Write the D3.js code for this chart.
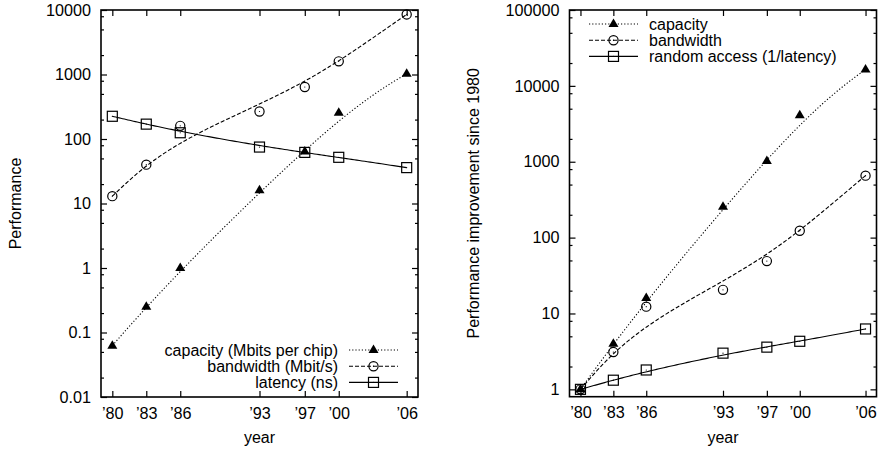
<!DOCTYPE html>
<html>
<head>
<meta charset="utf-8">
<script src="https://cdn.jsdelivr.net/npm/d3@7"></script>
<style>
  body { margin: 0; background: #fff; }
  svg { display: block; font-family: "Liberation Sans", Arial, sans-serif; }
  .tick text { font-size: 16.2px; fill: #000; }
</style>
</head>
<body>
<div id="chart"></div>
<script>
// Data
const YEARS = [1980, 1983, 1986, 1993, 1997, 2000, 2006];
const YEAR_LABELS = ["\u201980", "\u201983", "\u201986", "\u201993", "\u201997", "\u201900", "\u201906"];

// left panel: absolute values
const CAPACITY = [0.0625, 0.25, 1, 16, 64, 256, 1024];
const BANDWIDTH = [13, 40, 160, 267, 640, 1600, 8533];
const LATENCY = [225, 170, 125, 75, 62, 52, 36];
const LEFT_TICKS = [0.01, 0.1, 1, 10, 100, 1000, 10000];
const LEFT_LEGEND = ["capacity (Mbits per chip)", "bandwidth (Mbit/s)", "latency (ns)"];

// right panel: improvement since 1980
const CAPACITY_GAIN = [1, 4, 16, 256, 1024, 4096, 16384];
const BANDWIDTH_GAIN = [1, 3.1, 12.3, 20.5, 49, 123, 656];
const ACCESS_GAIN = [1, 1.32, 1.8, 3, 3.6, 4.3, 6.25];
const RIGHT_TICKS = [1, 10, 100, 1000, 10000, 100000];
const RIGHT_LEGEND = ["capacity", "bandwidth", "random access (1/latency)"];

const W = 880, H = 449;
const FONT = 16;
const svg = d3.select("#chart").append("svg").attr("width", W).attr("height", H);
svg.append("rect").attr("width", W).attr("height", H).attr("fill", "#fff");

// gnuplot-style "smooth bezier": one global Bezier through all points as control points
function bezierCurve(context) {
    let pts = [];
    return {
        areaStart() {}, areaEnd() {},
        lineStart() { pts = []; },
        point(x, y) { pts.push([+x, +y]); },
        lineEnd() {
            const steps = 120;
            for (let s = 0; s <= steps; s++) {
                const t = s / steps;
                let p = pts.map(q => q.slice());
                for (let k = p.length - 1; k > 0; k--)
                    for (let i = 0; i < k; i++)
                        p[i] = [p[i][0] + (p[i + 1][0] - p[i][0]) * t, p[i][1] + (p[i + 1][1] - p[i][1]) * t];
                if (s === 0) context.moveTo(p[0][0], p[0][1]); else context.lineTo(p[0][0], p[0][1]);
            }
        }
    };
}

const STYLES = {
    tri: { dash: "1.2,2" },
    circ: { dash: "4,2" },
    sq: { dash: null }
};

function marker(g, type, x, y) {
    if (type === "tri") {
        g.append("path").attr("transform", `translate(${x},${y})`)
            .attr("d", "M0,-5.5L5,3L-5,3Z").attr("fill", "#000");
    } else if (type === "circ") {
        g.append("circle").attr("cx", x).attr("cy", y).attr("r", 4.6)
            .attr("fill", "none").attr("stroke", "#000").attr("stroke-width", 1.2);
        g.append("circle").attr("cx", x).attr("cy", y).attr("r", 0.6).attr("fill", "#000");
    } else {
        g.append("rect").attr("x", x - 5).attr("y", y - 5).attr("width", 10).attr("height", 10)
            .attr("fill", "none").attr("stroke", "#000").attr("stroke-width", 1.2);
        g.append("circle").attr("cx", x).attr("cy", y).attr("r", 0.6).attr("fill", "#000");
    }
}

function minorTicks(domain) {
    const out = [];
    const lo = Math.floor(Math.log10(domain[0])), hi = Math.ceil(Math.log10(domain[1]));
    for (let e = lo; e <= hi; e++)
        [2, 5, 8].forEach(m => {
            const v = m * Math.pow(10, e);
            if (v > domain[0] && v < domain[1]) out.push(v);
        });
    return out;
}

function drawPanel(cfg) {
    const { left, right, top, bottom, yDomain, yTicks, series, legend, yTitle, titleX } = cfg;
    const x = d3.scaleLinear().domain([1979, 2007]).range([left, right]);
    const y = d3.scaleLog().domain(yDomain).range([bottom, top]);
    const g = svg.append("g");

    const fmt = d => d3.format("")(d);
    const axes = [
        { ax: d3.axisLeft(y).tickValues(yTicks).tickSize(-6).tickPadding(10).tickFormat(fmt), tr: `translate(${left},0)` },
        { ax: d3.axisLeft(y).tickValues(minorTicks(yDomain)).tickSize(-3).tickFormat(""), tr: `translate(${left},0)` },
        { ax: d3.axisRight(y).tickValues(yTicks).tickSize(-6).tickFormat(""), tr: `translate(${right},0)` },
        { ax: d3.axisRight(y).tickValues(minorTicks(yDomain)).tickSize(-3).tickFormat(""), tr: `translate(${right},0)` },
        { ax: d3.axisBottom(x).tickValues(YEARS).tickSize(-6).tickPadding(10).tickFormat((d, i) => YEAR_LABELS[i]), tr: `translate(0,${bottom})` },
        { ax: d3.axisTop(x).tickValues(YEARS).tickSize(-6).tickFormat(""), tr: `translate(0,${top})` }
    ];
    axes.forEach(a => {
        const ag = g.append("g").attr("transform", a.tr).call(a.ax);
        ag.select(".domain").remove();
        ag.selectAll("line").attr("stroke", "#000").attr("stroke-width", 1.2);
        ag.selectAll("text").attr("font-family", null);
    });

    g.append("rect").attr("x", left).attr("y", top).attr("width", right - left).attr("height", bottom - top)
        .attr("fill", "none").attr("stroke", "#000").attr("stroke-width", 1.6);

    const line = d3.line().x((d, i) => x(YEARS[i])).y(d => y(d)).curve(bezierCurve);
    series.forEach(s => {
        g.append("path").datum(s.values).attr("d", line).attr("fill", "none")
            .attr("stroke", "#000").attr("stroke-width", 1.1)
            .attr("stroke-dasharray", STYLES[s.type].dash);
        s.values.forEach((v, i) => marker(g, s.type, x(YEARS[i]), y(v)));
    });

    // legend
    legend.rows.forEach((label, i) => {
        const cy = legend.y + i * 16.2;
        const s = series[i];
        g.append("line").attr("x1", legend.x1).attr("x2", legend.x2).attr("y1", cy).attr("y2", cy)
            .attr("stroke", "#000").attr("stroke-width", 1.1).attr("stroke-dasharray", STYLES[s.type].dash);
        marker(g, s.type, (legend.x1 + legend.x2) / 2, cy);
        g.append("text").attr("x", legend.textX).attr("y", cy).attr("dy", "0.35em")
            .attr("text-anchor", legend.anchor).attr("font-size", FONT).text(label);
    });

    g.append("text").attr("x", (x(1980) + x(2006)) / 2).attr("y", 443).attr("text-anchor", "middle")
        .attr("font-size", FONT).text("year");
    g.append("text").attr("transform", `translate(${titleX},${(top + bottom) / 2}) rotate(-90)`)
        .attr("text-anchor", "middle").attr("dy", "0.35em").attr("font-size", FONT).text(yTitle);
}

drawPanel({
    left: 101, right: 418, top: 10, bottom: 397,
    yDomain: [0.01, 10000], yTicks: LEFT_TICKS,
    series: [
        { type: "tri", values: CAPACITY },
        { type: "circ", values: BANDWIDTH },
        { type: "sq", values: LATENCY }
    ],
    legend: { rows: LEFT_LEGEND, x1: 349, x2: 398, textX: 338, anchor: "end", y: 350 },
    yTitle: "Performance", titleX: 15
});

drawPanel({
    left: 569.5, right: 876.5, top: 10, bottom: 396.7,
    yDomain: [0.8, 100000], yTicks: RIGHT_TICKS,
    series: [
        { type: "tri", values: CAPACITY_GAIN },
        { type: "circ", values: BANDWIDTH_GAIN },
        { type: "sq", values: ACCESS_GAIN }
    ],
    legend: { rows: RIGHT_LEGEND, x1: 589, x2: 638, textX: 649, anchor: "start", y: 24 },
    yTitle: "Performance improvement since 1980", titleX: 473
});
</script>
</body>
</html>
